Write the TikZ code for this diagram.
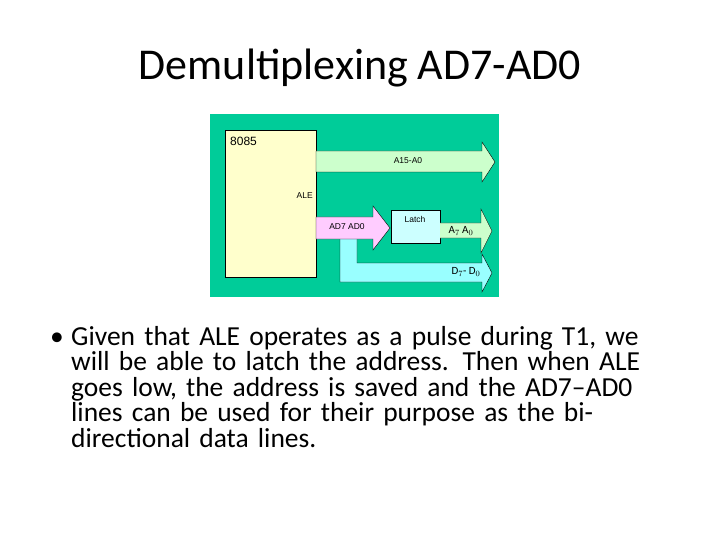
\documentclass[tikz,border=0pt]{standalone}
\usepackage{fontspec}
\setmainfont{Carlito}
\newfontfamily\diafont{Liberation Sans}
\usetikzlibrary{positioning}
\definecolor{bggreen}{RGB}{0,204,153}
\definecolor{chipyellow}{RGB}{255,255,204}
\definecolor{busgreen}{RGB}{204,255,204}
\definecolor{buspink}{RGB}{255,204,255}
\definecolor{buscyan}{RGB}{153,255,255}
\definecolor{latchblue}{RGB}{204,255,255}

\begin{document}
\begin{tikzpicture}[x=1pt, y=-1pt,
box/.style={draw, thin, rectangle, anchor=north west, inner sep=0pt},
bus/.style={draw, thin},
lbl/.style={font=\diafont\fontsize{8.5}{9}\selectfont, inner sep=0pt}
]
\useasboundingbox (0,0) rectangle (720,540);

\node[font=\fontsize{44}{48}\selectfont] (title) at (360,68) {Demultiplexing AD7-AD0};

% diagram
\fill[bggreen] (210,114) rectangle (499,297);
\node[box, fill=chipyellow, minimum width=91pt, minimum height=147pt] (cpu) at (225,130) {};
\node[lbl, font=\diafont\fontsize{12}{12}\selectfont, anchor=north west] (cpuname) at (230,137) {8085};
\node[lbl, anchor=east] (ale) at (313,196) {ALE};

% buses
\draw[bus, fill=busgreen] (316,151) -- (482,151) -- (482,142) -- (495,162) -- (482,182) -- (482,172) -- (316,172) -- cycle;
\node[lbl] (addr) at (408,161) {A15-A0};
\draw[bus, fill=buscyan] (340,238) -- (340,282) -- (482,282) -- (482,292) -- (492,273) -- (482,254) -- (482,263) -- (357,263) -- (357,238);
\node[lbl, font=\fontsize{11}{11}\selectfont] (data) at (466,272) {D$_7$- D$_0$};
\draw[bus, fill=buspink] (316,217) -- (373,217) -- (373,206) -- (390,228) -- (373,250) -- (373,239) -- (316,239) -- cycle;
\node[lbl] (adbus) at (347,227) {AD7 AD0};
\node[box, fill=latchblue, minimum width=49pt, minimum height=33pt] (latch) at (391,210) {};
\node[lbl] (latchname) at (415,219) {Latch};
\draw[bus, fill=busgreen] (440,223) -- (481,223) -- (481,209) -- (492,231) -- (481,253) -- (481,238) -- (440,238);
\node[lbl, font=\fontsize{11}{11}\selectfont] (low) at (461,231) {A$_7$ A$_0$};

% text
\node[anchor=north west, align=left, text width=650pt, font=\fontsize{27.5}{25.5}\selectfont, inner sep=0pt] (body) at (50,326)
{\makebox[21pt][l]{\textbullet}Given that ALE operates as a pulse during T1, we\\
\hspace*{21pt}will be able to latch the address. Then when ALE\\
\hspace*{21pt}goes low, the address is saved and the AD7--AD0\\
\hspace*{21pt}lines can be used for their purpose as the bi-\\
\hspace*{21pt}directional data lines.};
\end{tikzpicture}
\end{document}
